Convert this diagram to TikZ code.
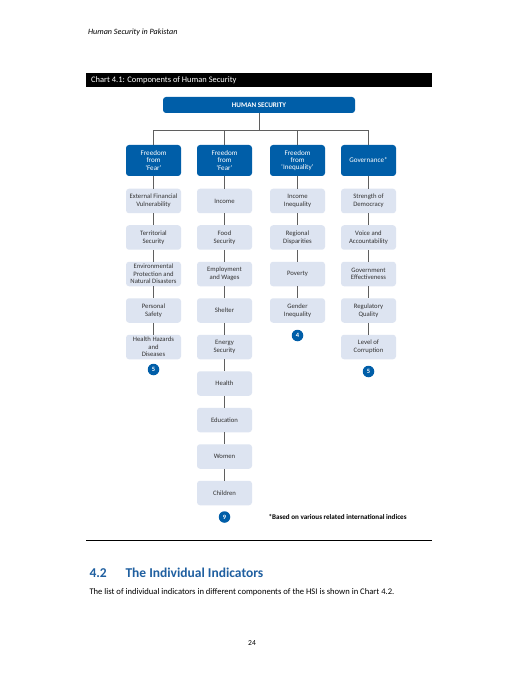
\documentclass[tikz,border=0pt]{standalone}
\usepackage{fontspec}
\setmainfont{Carlito}
\definecolor{hsblue}{RGB}{0,94,168}
\definecolor{hslight}{RGB}{221,228,241}
\definecolor{hsline}{RGB}{95,95,95}
\definecolor{headblue}{RGB}{31,95,160}
\tikzset{
  hsbox/.style={fill=hsblue, rounded corners=3pt, minimum width=192pt, minimum height=16pt,
    text=white, font=\fontsize{7.1}{8}\selectfont\bfseries, inner sep=0pt},
  dimbox/.style={fill=hsblue, rounded corners=3pt, minimum width=55pt, minimum height=31pt,
    text=white, align=center, font=\fontsize{7.1}{7.3}\selectfont, inner sep=1pt},
  indbox/.style={fill=hslight, rounded corners=3pt, minimum width=55pt, minimum height=24.5pt,
    text=black!80, align=center, font=\fontsize{6.7}{7.6}\selectfont, inner sep=1pt},
  badge/.style={circle, fill=hsblue, minimum size=11.5pt, inner sep=0pt,
    text=white, font=\fontsize{6.5}{7}\selectfont\bfseries},
  link/.style={draw=hsline, line width=0.9pt},
}
\begin{document}
\begin{tikzpicture}[x=1pt,y=-1pt]
\useasboundingbox[fill=white] (0,0) rectangle (504,684);
% page frame
\node[anchor=west, inner sep=0pt, font=\fontsize{8.1}{9}\selectfont\itshape] (runhead) at (88,32.7) {Human Security in Pakistan};
\fill[black] (86,73) rectangle (432,87.5);
\node[anchor=west, inner sep=0pt, text=white, font=\fontsize{8.45}{9}\selectfont] (title) at (91,80.5) {Chart 4.1: Components of Human Security};
% top
\node[hsbox] (hs) at (259,105) {HUMAN SECURITY};
\coordinate (split) at (259,130);
% components
\node[dimbox] (fear1) at (153.5,160.5) {Freedom\\from\\`Fear'};
\node[dimbox] (fear2) at (224.5,160.5) {Freedom\\from\\`Fear'};
\node[dimbox] (ineq) at (297.5,160.5) {Freedom\\from\\`Inequality'};
\node[dimbox] (gov) at (368.5,160.5) {Governance*};
% column 1
\node[indbox] (efv) at (153.5,201) {External Financial\\Vulnerability};
\node[indbox] (terr) at (153.5,237.5) {Territorial\\Security};
\node[indbox] (env) at (153.5,274) {Environmental\\Protection and\\Natural Disasters};
\node[indbox] (safe) at (153.5,310.5) {Personal\\Safety};
\node[indbox] (haz) at (153.5,347) {Health Hazards\\and\\Diseases};
\node[badge] (n1) at (153.5,369.5) {5};
% column 2
\node[indbox] (inc) at (224.5,201) {Income};
\node[indbox] (food) at (224.5,237.5) {Food\\Security};
\node[indbox] (emp) at (224.5,274) {Employment\\and Wages};
\node[indbox] (shel) at (224.5,310.5) {Shelter};
\node[indbox] (ener) at (224.5,347) {Energy\\Security};
\node[indbox] (hlth) at (224.5,383.5) {Health};
\node[indbox] (edu) at (224.5,420) {Education};
\node[indbox] (wom) at (224.5,456.5) {Women};
\node[indbox] (chil) at (224.5,493) {Children};
\node[badge] (n2) at (224.5,517) {9};
% column 3
\node[indbox] (incq) at (297.5,201) {Income\\Inequality};
\node[indbox] (reg) at (297.5,237.5) {Regional\\Disparities};
\node[indbox] (pov) at (297.5,274) {Poverty};
\node[indbox] (gend) at (297.5,310.5) {Gender\\Inequality};
\node[badge] (n3) at (297.5,335.5) {4};
% column 4
\node[indbox] (dem) at (368.5,201) {Strength of\\Democracy};
\node[indbox] (voice) at (368.5,237.5) {Voice and\\Accountability};
\node[indbox] (eff) at (368.5,274) {Government\\Effectiveness};
\node[indbox] (regq) at (368.5,310.5) {Regulatory\\Quality};
\node[indbox] (corr) at (368.5,347) {Level of\\Corruption};
\node[badge] (n4) at (368.5,371.5) {5};
% tree
\draw[link] (hs.south) -- (split);
\draw[link] (fear1.north) -- (fear1.north |- split) -- (gov.north |- split) -- (gov.north);
\draw[link] (fear2.north) -- (fear2.north |- split);
\draw[link] (ineq.north) -- (ineq.north |- split);
\draw[link] (fear1)--(efv)--(terr)--(env)--(safe)--(haz);
\draw[link] (fear2)--(inc)--(food)--(emp)--(shel)--(ener)--(hlth)--(edu)--(wom)--(chil);
\draw[link] (ineq)--(incq)--(reg)--(pov)--(gend);
\draw[link] (gov)--(dem)--(voice)--(eff)--(regq)--(corr);
\node[anchor=west, font=\fontsize{7.1}{8}\selectfont\bfseries] (note) at (265,517) {*Based on various related international indices};
% text below
\draw[line width=1pt] (86,540) -- (432,540);
\node[anchor=base west, text=headblue, font=\fontsize{13.5}{15}\selectfont\bfseries] (secno) at (86,577) {4.2};
\node[anchor=base west, text=headblue, font=\fontsize{13.5}{15}\selectfont\bfseries] (sectitle) at (122,577) {The Individual Indicators};
\node[anchor=base west, font=\fontsize{8.6}{10}\selectfont] (body) at (86,594) {The list of individual indicators in different components of the HSI is shown in Chart 4.2.};
\node[font=\fontsize{7.6}{8}\selectfont] (pageno) at (252,643) {24};
\end{tikzpicture}
\end{document}
